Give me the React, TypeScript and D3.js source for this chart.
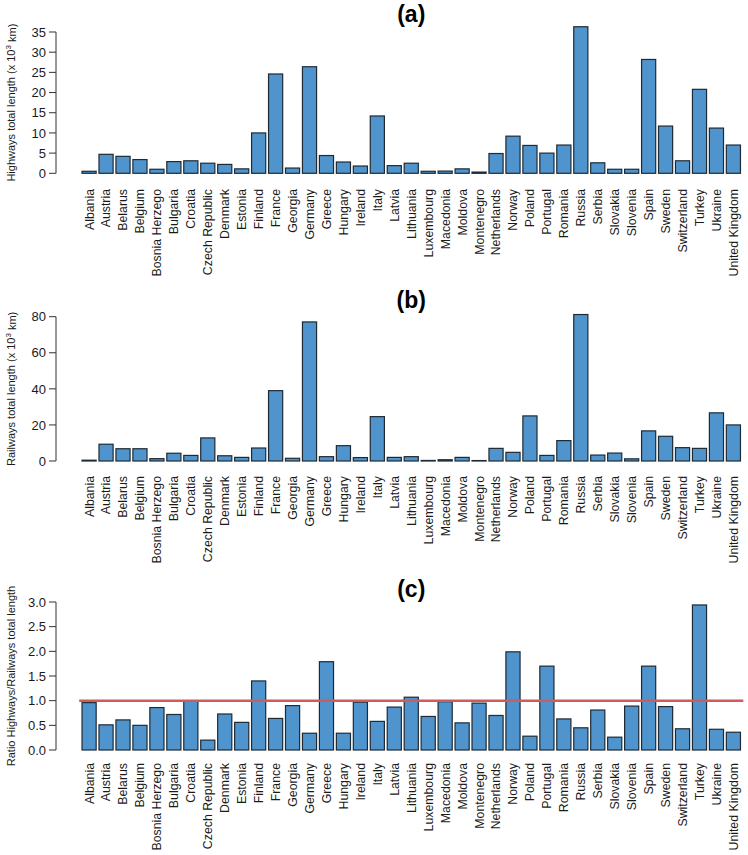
import React from "react";
import * as d3 from "d3";

const countries = [
  "Albania", "Austria", "Belarus", "Belgium", "Bosnia Herzego", "Bulgaria", "Croatia",
  "Czech Republic", "Denmark", "Estonia", "Finland", "France", "Georgia", "Germany",
  "Greece", "Hungary", "Ireland", "Italy", "Latvia", "Lithuania", "Luxembourg",
  "Macedonia", "Moldova", "Montenegro", "Netherlands", "Norway", "Poland", "Portugal",
  "Romania", "Russia", "Serbia", "Slovakia", "Slovenia", "Spain", "Sweden",
  "Switzerland", "Turkey", "Ukraine", "United Kingdom",
];

const highways = [
  0.5, 4.7, 4.2, 3.4, 1.0, 2.9, 3.1, 2.5, 2.2, 1.1, 10.0, 24.6, 1.3, 26.4, 4.4, 2.8,
  1.8, 14.2, 1.9, 2.5, 0.5, 0.55, 1.1, 0.3, 4.9, 9.2, 6.9, 5.0, 7.0, 36.3, 2.6, 1.0,
  1.0, 28.2, 11.7, 3.1, 20.8, 11.2, 7.0,
];

const railways = [
  0.45, 9.3, 6.8, 6.8, 1.3, 4.3, 3.1, 12.8, 2.9, 2.0, 7.2, 39.0, 1.5, 77.1, 2.4, 8.5,
  1.9, 24.6, 2.0, 2.4, 0.3, 0.7, 2.0, 0.25, 7.0, 4.8, 25.0, 3.1, 11.3, 81.2, 3.3, 4.4,
  1.2, 16.7, 13.7, 7.4, 7.0, 26.7, 20.0,
];

const ratio = [
  0.96, 0.51, 0.61, 0.5, 0.86, 0.72, 0.99, 0.2, 0.73, 0.56, 1.4, 0.64, 0.9, 0.34, 1.79,
  0.34, 0.97, 0.58, 0.87, 1.07, 0.68, 0.98, 0.55, 0.95, 0.7, 1.99, 0.28, 1.7, 0.63,
  0.45, 0.81, 0.26, 0.89, 1.7, 0.88, 0.43, 2.94, 0.42, 0.36,
];

const ticksA = [0, 5, 10, 15, 20, 25, 30, 35];
const ticksB = [0, 20, 40, 60, 80];
const ticksC = [0, 0.5, 1, 1.5, 2, 2.5, 3];

const W = 748;
const H = 855;
const FONT = "'Liberation Sans', Arial, Helvetica, sans-serif";
const BAR_FILL = "#4F94CD";
const BAR_STROKE = "#1f2a33";
const TEXT = "#1a1a1a";
const AXIS = "#333333";

const x = d3
  .scaleBand<string>()
  .domain(countries)
  .range([79.2, 743.3])
  .paddingInner(1 / 6)
  .paddingOuter(1 / 6);

type PanelProps = {
  values: number[];
  ticks: number[];
  domainMax: number;
  yRange: [number, number];
  title: string;
  titleY: number;
  ylabelMain: string;
  ylabelSup?: string;
  ylabelTail?: string;
  labelY: number;
  fmt: (v: number) => string;
  refLine?: number;
};

function Panel(p: PanelProps) {
  const y = d3.scaleLinear().domain([0, p.domainMax]).range(p.yRange);
  const axisX = 56;
  const yMid = (y(0) + y(p.domainMax)) / 2;
  const [r0, r1] = x.range();
  return (
    <g>
      {p.values.map((v, i) => (
        <rect
          key={countries[i]}
          x={x(countries[i])}
          y={y(v)}
          width={x.bandwidth()}
          height={y(0) - y(v)}
          fill={BAR_FILL}
          stroke={BAR_STROKE}
          strokeWidth={1.2}
        />
      ))}
      {p.refLine !== undefined && (
        <line
          x1={r0}
          x2={r1}
          y1={y(p.refLine)}
          y2={y(p.refLine)}
          stroke="#CD5C5C"
          strokeWidth={2.5}
        />
      )}
      <line
        x1={axisX}
        x2={axisX}
        y1={y(p.ticks[0])}
        y2={y(p.ticks[p.ticks.length - 1])}
        stroke={AXIS}
        strokeWidth={1}
      />
      {p.ticks.map((t) => (
        <g key={t}>
          <line x1={axisX - 7} x2={axisX} y1={y(t)} y2={y(t)} stroke={AXIS} strokeWidth={1} />
          <text
            x={axisX - 10}
            y={y(t)}
            dy="0.36em"
            textAnchor="end"
            fontSize={13}
            fill={TEXT}
            fontFamily={FONT}
          >
            {p.fmt(t)}
          </text>
        </g>
      ))}
      <text
        transform={`translate(15,${yMid}) rotate(-90)`}
        textAnchor="middle"
        fontSize={11}
        fill={TEXT}
        fontFamily={FONT}
      >
        {p.ylabelMain}
        {p.ylabelSup && (
          <tspan dy="-0.45em" fontSize={8}>
            {p.ylabelSup}
          </tspan>
        )}
        {p.ylabelTail && <tspan dy="0.45em">{p.ylabelTail}</tspan>}
      </text>
      {countries.map((c) => (
        <text
          key={c}
          transform={`translate(${(x(c) as number) + x.bandwidth() / 2},${p.labelY}) rotate(-90)`}
          dy="0.36em"
          textAnchor="end"
          fontSize={12.3}
          fill={TEXT}
          fontFamily={FONT}
        >
          {c}
        </text>
      ))}
      <text
        x={(r0 + r1) / 2}
        y={p.titleY}
        textAnchor="middle"
        fontSize={23}
        fontWeight="bold"
        fill="#000"
        fontFamily={FONT}
      >
        {p.title}
      </text>
    </g>
  );
}

export default function App() {
  return (
    <svg
      width={W}
      height={H}
      style={{ position: "absolute", left: 0, top: 0, background: "#fff" }}
    >
      <rect width={W} height={H} fill="#fff" />
      <Panel
        values={highways}
        ticks={ticksA}
        domainMax={35}
        yRange={[173.3, 32]}
        title="(a)"
        titleY={22}
        ylabelMain="Highways total length (x 10"
        ylabelSup="3"
        ylabelTail=" km)"
        labelY={189}
        fmt={(v) => String(v)}
      />
      <Panel
        values={railways}
        ticks={ticksB}
        domainMax={80}
        yRange={[461, 316.7]}
        title="(b)"
        titleY={308}
        ylabelMain="Railways total length (x 10"
        ylabelSup="3"
        ylabelTail=" km)"
        labelY={476}
        fmt={(v) => String(v)}
      />
      <Panel
        values={ratio}
        ticks={ticksC}
        domainMax={3}
        yRange={[750, 602]}
        title="(c)"
        titleY={597}
        ylabelMain="Ratio Highways/Railways total length"
        labelY={763}
        fmt={(v) => v.toFixed(1)}
        refLine={1}
      />
    </svg>
  );
}
